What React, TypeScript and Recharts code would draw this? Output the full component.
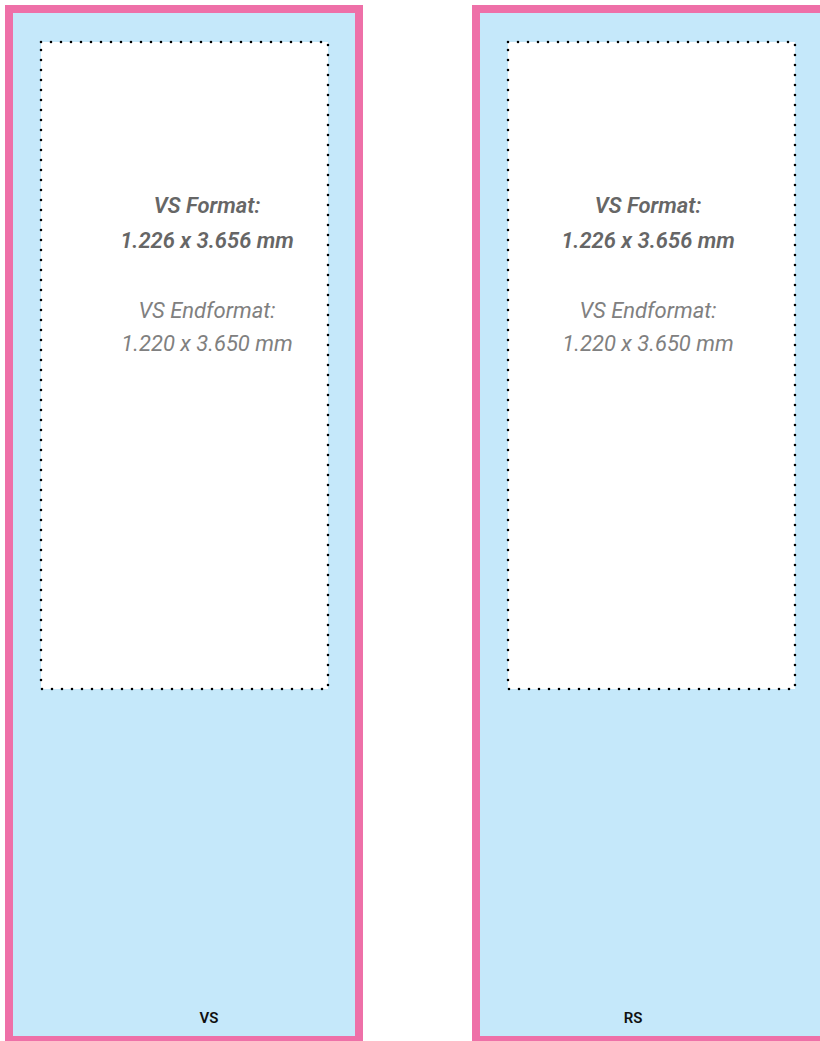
import React from 'react';
import { ComposedChart, XAxis, YAxis, ReferenceArea, Scatter } from 'recharts';

// sheet sides and their caption
const SIDES = ['VS', 'RS'];
const FORMAT_LINES = ['VS Format:', '1.226 x 3.656 mm'];
const END_LINES = ['VS Endformat:', '1.220 x 3.650 mm'];

const W = 820;
const H = 1041;
const PINK = '#ee70a8';
const SKY = '#c5e8fa';
const GREY = '#666666';
const LIGHT_GREY = '#808080';

// layout per side: outer panel left edge, safe area left/right, text center
const PANEL_LEFT = [5, 472];
const PANEL_W = 358;
const SAFE = [
  [41, 328],
  [508, 795],
];
const TEXT_X = [207, 648];
const LABEL_X = [209, 633];

type TextPoint = { x: number; y: number; text: string; weight: number; italic?: boolean; size: number; color: string };

const textPoints: TextPoint[] = [];
SIDES.forEach((side, i) => {
  textPoints.push({ x: TEXT_X[i], y: 205, text: FORMAT_LINES[0], weight: 600, italic: true, size: 22, color: GREY });
  textPoints.push({ x: TEXT_X[i], y: 240, text: FORMAT_LINES[1], weight: 600, italic: true, size: 22, color: GREY });
  textPoints.push({ x: TEXT_X[i], y: 310, text: END_LINES[0], weight: 400, italic: true, size: 22, color: LIGHT_GREY });
  textPoints.push({ x: TEXT_X[i], y: 343, text: END_LINES[1], weight: 400, italic: true, size: 22, color: LIGHT_GREY });
  textPoints.push({ x: LABEL_X[i], y: 1018, text: side, weight: 600, size: 15, color: '#111' });
});

const TextShape = (props: any) => {
  const { cx, cy, payload } = props;
  return (
    <text
      x={cx}
      y={cy}
      textAnchor="middle"
      dominantBaseline="central"
      fontFamily="Roboto, 'Open Sans', sans-serif"
      fontSize={payload.size}
      fontWeight={payload.weight}
      fontStyle={payload.italic ? 'italic' : 'normal'}
      fill={payload.color}
    >
      {payload.text}
    </text>
  );
};

export default function App() {
  return (
    <div style={{ position: 'absolute', left: 0, top: 0, width: W, height: H, background: '#fff' }}>
      <ComposedChart width={W} height={H} margin={{ top: 0, right: 0, bottom: 0, left: 0 }}>
        <XAxis type="number" dataKey="x" domain={[0, W]} hide allowDataOverflow />
        <YAxis type="number" dataKey="y" domain={[0, H]} reversed hide allowDataOverflow />
        {SIDES.map((side, i) => (
          <ReferenceArea
            key={`panel-${side}`}
            x1={PANEL_LEFT[i] + 4}
            x2={PANEL_LEFT[i] + PANEL_W - 4}
            y1={9}
            y2={H - 1}
            fill={SKY}
            fillOpacity={1}
            stroke={PINK}
            strokeWidth={8}
            ifOverflow="visible"
          />
        ))}
        {SIDES.map((side, i) => (
          <ReferenceArea
            key={`safe-${side}`}
            x1={SAFE[i][0]}
            x2={SAFE[i][1]}
            y1={42}
            y2={689}
            fill="#ffffff"
            fillOpacity={1}
            stroke="#000"
            strokeWidth={2.6}
            strokeDasharray="0 10"
            strokeLinecap="round"
            ifOverflow="visible"
          />
        ))}
        <Scatter data={textPoints} dataKey="y" shape={<TextShape />} isAnimationActive={false} />
      </ComposedChart>
    </div>
  );
}
